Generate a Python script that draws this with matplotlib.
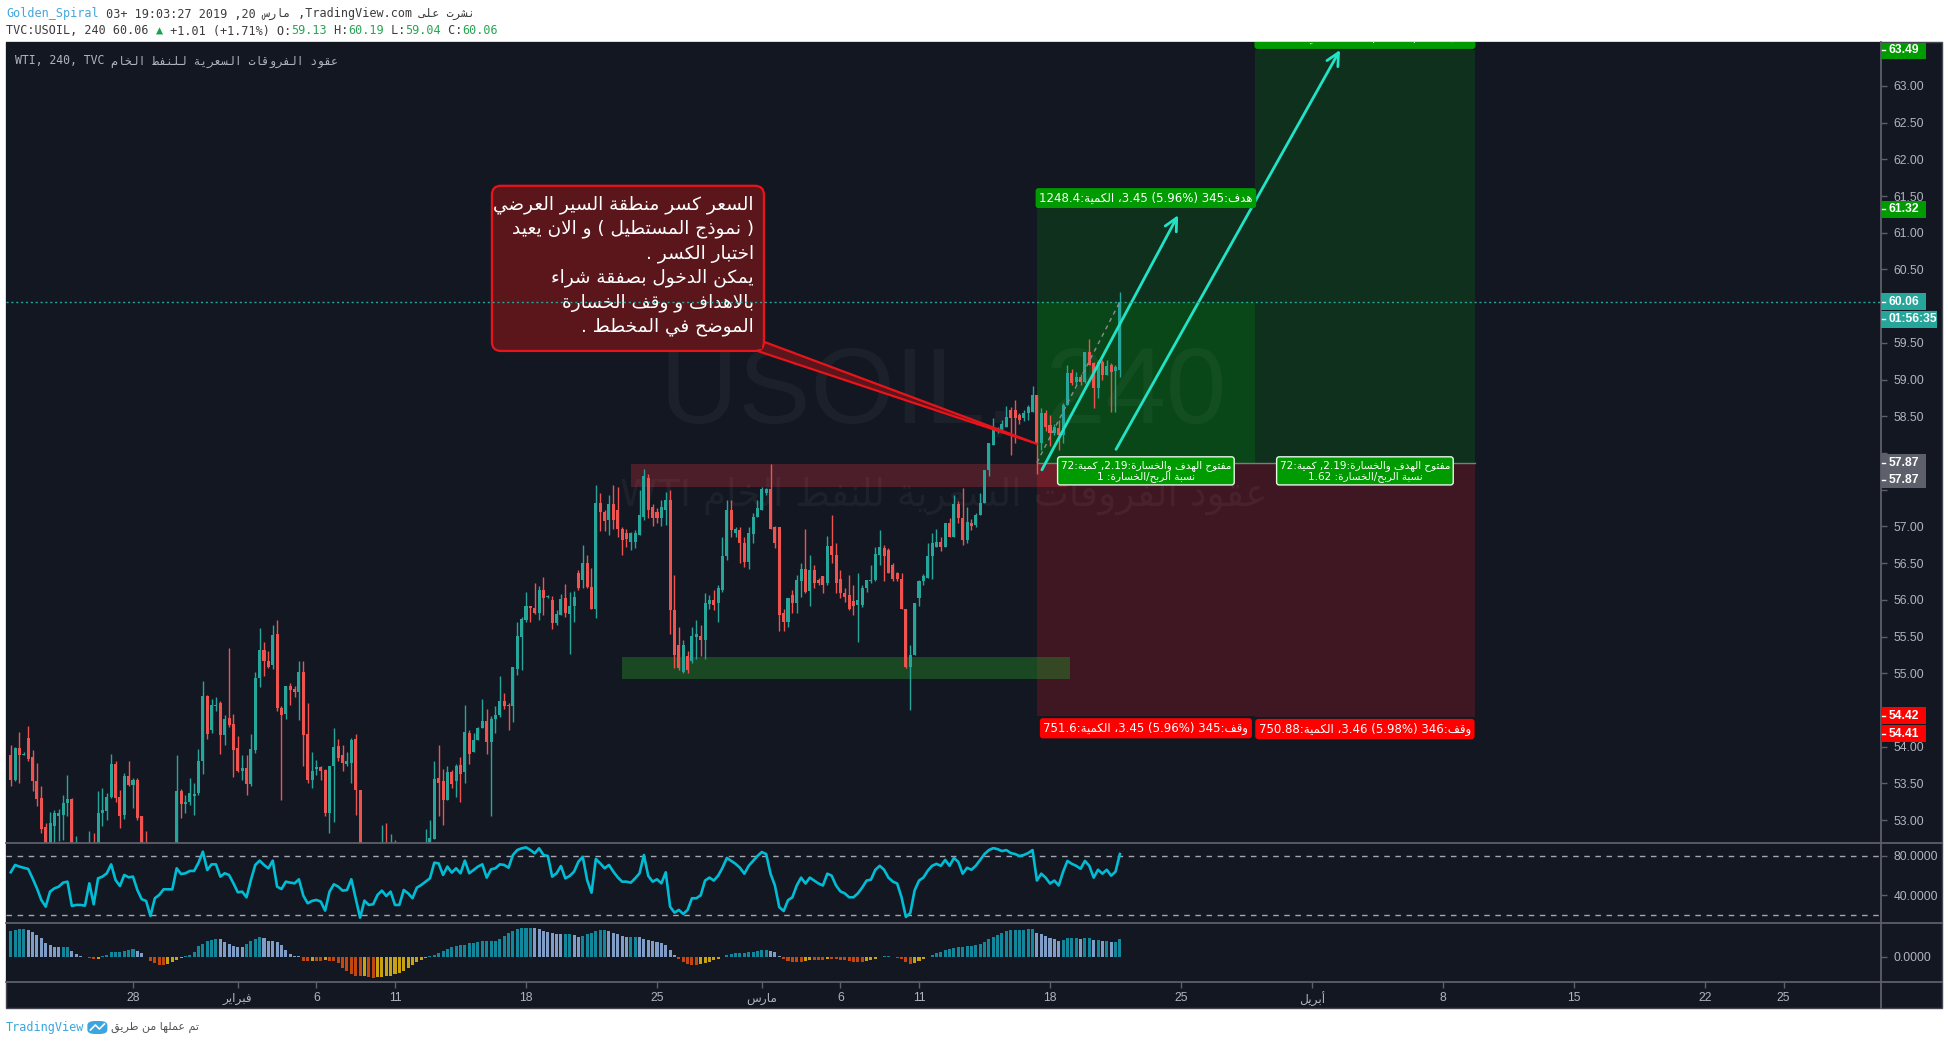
import re
import numpy as np
import matplotlib
matplotlib.use("Agg")
import matplotlib.pyplot as plt
from matplotlib.patches import Rectangle, FancyBboxPatch, Polygon
from matplotlib.lines import Line2D
from matplotlib.transforms import IdentityTransform

plt.rcParams['font.family'] = ['DejaVu Sans']

# ---------------------------------------------------------------- data
# 4h candles of TVC:USOIL, from Jan 21 (3rd bar of the day) to Mar 20, 2019
OPEN = [
 53.89, 53.55, 53.98, 53.89, 54.12, 53.86, 53.53, 53.30, 52.90, 52.55,
 52.92, 53.06, 53.07, 53.23, 53.28, 52.40, 52.55, 52.40, 52.45, 52.62,
 52.50, 53.09, 53.12, 53.32, 53.77, 53.31, 53.07, 53.60, 53.48, 53.54,
 53.05, 52.50, 52.30, 52.10, 52.00, 52.20, 52.10, 52.30, 52.35, 53.39,
 53.22, 53.25, 53.33, 53.37, 53.80, 54.69, 54.22, 54.56, 54.59, 54.16,
 54.39, 54.31, 53.98, 53.67, 53.71, 53.49, 53.95, 54.93, 55.32, 55.17,
 55.11, 55.54, 54.53, 54.45, 54.82, 54.79, 54.74, 55.02, 54.17, 53.55,
 53.69, 53.72, 53.68, 53.10, 53.73, 54.01, 53.89, 53.77, 53.78, 54.11,
 53.41, 52.40, 52.50, 52.30, 52.20, 52.40, 52.55, 52.40, 52.50, 52.30,
 52.20, 52.10, 52.25, 52.30, 52.20, 52.35, 52.50, 52.74, 53.57, 53.53,
 53.27, 53.65, 53.53, 53.75, 53.66, 54.18, 53.93, 54.09, 54.25, 54.35,
 54.06, 54.37, 54.43, 54.62, 54.57, 54.55, 55.06, 55.50, 55.73, 55.91,
 55.89, 55.82, 56.13, 56.04, 56.00, 55.69, 55.79, 56.03, 55.81, 55.91,
 56.36, 56.27, 56.50, 56.18, 55.88, 57.32, 57.20, 57.09, 57.31, 57.22,
 56.97, 56.91, 56.79, 56.79, 56.88, 57.13, 57.66, 57.27, 57.20, 57.12,
 57.22, 57.36, 55.86, 55.38, 55.02, 55.23, 55.16, 55.49, 55.51, 55.45,
 55.94, 56.00, 55.95, 56.13, 56.59, 57.22, 56.91, 56.95, 56.77, 56.52,
 56.90, 57.13, 57.22, 57.45, 57.51, 56.99, 56.99, 55.82, 55.70, 56.07,
 55.95, 56.25, 56.42, 56.12, 56.41, 56.27, 56.32, 56.23, 56.73, 56.61,
 56.29, 56.09, 56.07, 55.98, 55.93, 55.93, 56.16, 56.25, 56.27, 56.61,
 56.70, 56.68, 56.47, 56.36, 56.28, 55.88, 55.08, 55.25, 56.02, 56.25,
 56.30, 56.59, 56.72, 56.79, 56.72, 57.05, 56.86, 57.31, 57.12, 56.81,
 57.05, 57.02, 57.16, 57.32, 57.77, 58.11, 58.31, 58.31, 58.36, 58.59,
 58.59, 58.52, 58.47, 58.54, 58.56, 58.79, 58.13, 58.54, 58.38, 58.27,
 58.34, 58.25, 58.65, 59.09, 58.97, 59.04, 58.97, 59.37, 59.22, 58.88,
 59.24, 59.06, 59.20, 59.12, 59.13]
HIGH = [
 54.02, 54.00, 54.20, 53.92, 54.28, 53.96, 53.78, 53.46, 52.96, 53.11,
 53.14, 53.15, 53.34, 53.62, 53.30, 52.78, 52.62, 52.62, 52.85, 52.82,
 53.39, 53.43, 53.37, 53.90, 53.81, 53.41, 53.64, 53.81, 53.57, 53.57,
 53.05, 52.85, 52.40, 52.30, 52.35, 52.40, 52.50, 52.55, 53.89, 53.42,
 53.34, 53.57, 53.50, 53.97, 54.90, 54.71, 54.65, 54.67, 54.62, 54.43,
 55.34, 54.45, 54.15, 53.88, 53.88, 54.17, 55.02, 55.61, 55.42, 55.30,
 55.65, 55.73, 54.55, 54.83, 54.87, 54.82, 55.17, 55.17, 54.59, 53.92,
 53.82, 53.73, 53.69, 53.74, 54.25, 54.11, 54.02, 53.92, 54.12, 54.17,
 53.41, 52.70, 52.60, 52.45, 52.50, 52.93, 52.96, 52.81, 52.73, 52.50,
 52.35, 52.40, 52.50, 52.45, 52.50, 52.88, 53.00, 53.81, 54.02, 53.69,
 53.73, 53.68, 53.77, 53.86, 54.57, 54.22, 54.19, 54.27, 54.65, 54.51,
 54.42, 54.56, 54.96, 54.73, 54.59, 55.08, 55.70, 55.77, 56.10, 55.92,
 56.23, 56.19, 56.31, 56.06, 56.05, 55.86, 56.08, 56.22, 56.10, 56.12,
 56.40, 56.75, 56.61, 56.43, 57.56, 57.45, 57.22, 57.43, 57.56, 57.54,
 56.99, 56.97, 56.93, 56.95, 57.50, 57.78, 57.72, 57.30, 57.25, 57.36,
 57.47, 57.50, 56.34, 55.63, 55.45, 55.30, 55.63, 55.73, 55.66, 56.09,
 56.07, 56.13, 56.20, 56.86, 57.36, 57.36, 56.99, 56.99, 56.86, 56.99,
 57.18, 57.36, 57.54, 57.52, 57.85, 57.00, 56.99, 55.88, 56.02, 56.13,
 56.34, 56.50, 56.97, 56.61, 56.47, 56.30, 56.32, 56.87, 57.16, 56.77,
 56.41, 56.16, 56.34, 56.20, 56.36, 56.20, 56.27, 56.47, 56.72, 56.95,
 56.75, 56.70, 56.50, 56.38, 56.37, 55.88, 55.38, 55.96, 56.27, 56.35,
 56.77, 56.91, 56.96, 56.86, 57.05, 57.12, 57.43, 57.35, 57.52, 57.27,
 57.10, 57.18, 57.45, 57.77, 58.13, 58.47, 58.36, 58.45, 58.64, 58.63,
 58.72, 58.55, 58.58, 58.65, 58.91, 58.79, 58.61, 58.58, 58.52, 58.40,
 58.45, 58.68, 59.20, 59.15, 59.10, 59.08, 59.37, 59.55, 59.24, 59.27,
 59.27, 59.27, 59.22, 59.20, 60.19]
LOW = [
 53.47, 53.53, 53.50, 53.88, 53.80, 53.39, 53.19, 52.82, 52.45, 52.45,
 52.69, 52.71, 52.73, 53.05, 52.30, 52.30, 52.20, 52.30, 52.35, 52.40,
 52.45, 52.92, 53.00, 53.30, 53.25, 52.89, 53.01, 53.46, 53.17, 53.00,
 52.40, 52.20, 51.90, 51.80, 51.90, 52.00, 52.00, 52.20, 52.30, 53.03,
 53.09, 53.20, 53.07, 53.34, 53.63, 54.11, 54.18, 54.48, 53.90, 54.02,
 54.27, 53.58, 53.66, 53.54, 53.34, 53.46, 53.91, 54.81, 54.96, 55.07,
 55.06, 54.48, 53.27, 54.37, 54.57, 54.68, 54.36, 53.74, 53.50, 53.44,
 53.62, 53.55, 53.05, 52.83, 52.97, 53.81, 53.67, 53.73, 53.50, 53.07,
 52.30, 52.20, 52.10, 52.00, 52.10, 52.30, 52.30, 52.30, 52.20, 52.00,
 51.95, 52.00, 52.10, 52.05, 52.10, 52.25, 52.40, 52.74, 53.06, 52.93,
 53.27, 53.44, 53.31, 53.25, 53.51, 53.77, 53.93, 54.09, 54.25, 53.90,
 53.06, 54.18, 54.40, 54.51, 54.22, 54.34, 54.97, 55.04, 55.70, 55.70,
 55.81, 55.73, 55.79, 56.02, 55.60, 55.65, 55.79, 55.77, 55.26, 55.70,
 56.13, 56.16, 56.16, 55.88, 55.75, 56.94, 56.94, 56.88, 56.96, 56.86,
 56.61, 56.72, 56.68, 56.70, 56.88, 57.09, 57.11, 57.00, 57.05, 57.00,
 57.02, 55.54, 55.07, 55.04, 55.00, 55.00, 55.14, 55.20, 55.23, 55.20,
 55.88, 55.86, 55.70, 56.11, 56.54, 56.86, 56.86, 56.50, 56.45, 56.42,
 56.77, 57.13, 57.22, 57.43, 56.97, 56.70, 55.57, 55.57, 55.63, 55.82,
 55.82, 56.04, 56.09, 55.91, 56.16, 56.20, 56.09, 56.20, 56.50, 56.09,
 56.02, 55.97, 55.86, 55.79, 55.43, 55.90, 56.11, 56.23, 56.25, 56.47,
 56.25, 56.36, 56.25, 56.25, 55.88, 55.07, 54.50, 55.25, 55.91, 56.20,
 56.30, 56.29, 56.72, 56.66, 56.72, 56.86, 56.86, 57.05, 56.75, 56.77,
 56.95, 56.99, 57.16, 57.32, 57.68, 58.11, 58.27, 58.28, 58.36, 57.97,
 58.13, 58.40, 58.44, 58.45, 58.56, 57.72, 58.04, 58.30, 58.09, 58.25,
 58.04, 58.13, 58.65, 58.93, 58.93, 58.92, 58.95, 59.20, 58.61, 58.75,
 59.00, 59.06, 58.56, 58.56, 59.04]
CLOSE = [
 53.55, 53.98, 53.89, 53.90, 53.83, 53.53, 53.29, 52.88, 52.60, 52.96,
 53.09, 53.09, 53.23, 53.28, 52.40, 52.55, 52.40, 52.50, 52.62, 52.50,
 53.10, 53.13, 53.32, 53.77, 53.30, 53.06, 53.60, 53.48, 53.54, 53.03,
 52.50, 52.30, 52.10, 52.00, 52.20, 52.10, 52.30, 52.35, 53.39, 53.22,
 53.24, 53.37, 53.35, 53.81, 54.69, 54.17, 54.57, 54.57, 54.16, 54.37,
 54.29, 53.96, 53.67, 53.71, 53.49, 53.97, 54.93, 55.32, 55.16, 55.09,
 55.52, 54.52, 54.43, 54.83, 54.77, 54.74, 55.02, 54.16, 53.55, 53.67,
 53.72, 53.67, 53.10, 53.74, 54.00, 53.85, 53.78, 53.81, 54.09, 53.41,
 52.40, 52.50, 52.30, 52.20, 52.40, 52.55, 52.40, 52.50, 52.30, 52.20,
 52.10, 52.25, 52.30, 52.20, 52.35, 52.50, 52.76, 53.56, 53.51, 53.27,
 53.65, 53.49, 53.74, 53.63, 54.20, 53.90, 54.09, 54.25, 54.35, 54.06,
 54.37, 54.43, 54.62, 54.56, 54.55, 55.08, 55.51, 55.74, 55.92, 55.89,
 55.82, 56.14, 56.03, 56.04, 55.69, 55.81, 56.01, 55.82, 55.92, 56.04,
 56.16, 56.50, 56.18, 55.88, 57.32, 57.20, 57.08, 57.31, 57.09, 56.97,
 56.82, 56.83, 56.91, 56.91, 57.16, 57.68, 57.22, 57.12, 57.12, 57.26,
 57.36, 55.86, 55.25, 55.07, 55.38, 55.04, 55.51, 55.54, 55.45, 55.96,
 56.00, 55.93, 56.16, 56.59, 57.22, 56.95, 56.97, 56.77, 56.52, 56.91,
 57.13, 57.25, 57.51, 57.51, 56.97, 56.77, 55.79, 55.70, 56.02, 55.95,
 56.27, 56.42, 56.11, 56.41, 56.23, 56.23, 56.20, 56.73, 56.61, 56.23,
 56.09, 56.04, 55.88, 55.91, 56.00, 56.16, 56.27, 56.27, 56.63, 56.72,
 56.59, 56.36, 56.29, 56.29, 55.88, 55.08, 55.25, 55.96, 56.25, 56.32,
 56.59, 56.77, 56.79, 56.72, 57.05, 56.86, 57.31, 57.12, 56.81, 57.06,
 57.01, 57.16, 57.32, 57.77, 58.13, 58.31, 58.34, 58.40, 58.49, 58.47,
 58.47, 58.45, 58.54, 58.63, 58.79, 58.13, 58.54, 58.36, 58.27, 58.36,
 58.25, 58.65, 59.09, 58.95, 59.04, 58.97, 59.37, 59.20, 58.88, 59.24,
 59.06, 59.18, 59.11, 59.17, 60.06]
STOCH = [
 63.4, 70.9, 69.2, 68.0, 66.8, 57.3, 47.1, 35.3, 28.5, 43.7,
 47.1, 48.8, 52.9, 53.9, 29.2, 30.2, 30.2, 29.5, 52.2, 30.9,
 57.3, 59.0, 62.4, 71.5, 55.6, 49.5, 60.7, 58.3, 59.0, 45.4,
 36.0, 34.3, 19.0, 37.0, 40.4, 46.1, 46.1, 46.1, 67.5, 61.7,
 62.4, 64.8, 64.8, 73.2, 84.4, 65.8, 71.5, 71.5, 59.0, 62.4,
 60.7, 52.2, 43.1, 43.7, 38.0, 55.6, 70.9, 75.3, 70.9, 67.5,
 75.3, 48.8, 46.4, 53.9, 52.9, 52.2, 56.3, 39.7, 31.9, 34.3,
 35.3, 33.6, 24.4, 43.7, 51.2, 48.8, 44.8, 45.4, 56.3, 37.0,
 17.3, 34.6, 30.2, 30.9, 40.4, 44.8, 39.3, 43.7, 30.2, 30.2,
 45.4, 42.0, 37.0, 47.8, 50.5, 53.9, 57.3, 73.2, 72.5, 60.7,
 69.2, 63.1, 67.5, 62.4, 75.3, 62.4, 65.8, 69.2, 71.5, 58.0,
 66.4, 67.5, 71.5, 70.9, 68.1, 81.0, 86.1, 87.8, 88.8, 86.1,
 82.7, 87.8, 81.0, 80.0, 59.0, 62.4, 69.8, 57.3, 59.7, 64.1,
 74.2, 79.3, 55.6, 42.7, 77.0, 72.5, 67.5, 70.9, 64.1, 58.3,
 53.9, 53.9, 52.9, 57.3, 62.4, 81.0, 59.7, 53.9, 56.3, 52.2,
 63.4, 28.5, 22.4, 25.1, 21.0, 25.1, 37.0, 37.0, 40.0, 55.0,
 58.0, 55.0, 60.0, 68.0, 78.0, 75.0, 72.0, 68.0, 62.0, 70.0,
 75.0, 80.0, 84.0, 82.0, 62.0, 50.0, 28.0, 24.0, 35.0, 38.0,
 50.0, 58.0, 52.0, 58.0, 55.0, 52.0, 50.0, 62.0, 60.0, 50.0,
 44.0, 42.0, 38.0, 38.0, 42.0, 48.0, 55.0, 56.0, 66.0, 70.0,
 66.0, 58.0, 54.0, 52.0, 38.0, 18.0, 22.0, 45.0, 55.0, 58.0,
 65.0, 70.0, 72.0, 70.0, 76.0, 70.0, 78.0, 74.0, 62.0, 68.0,
 66.0, 70.0, 76.0, 82.0, 86.0, 88.0, 87.0, 85.0, 86.0, 83.0,
 82.0, 80.0, 81.0, 83.0, 86.0, 55.0, 62.0, 58.0, 52.0, 55.0,
 50.0, 64.0, 75.0, 72.0, 70.0, 67.0, 75.0, 70.0, 58.0, 66.0,
 62.0, 66.0, 60.0, 64.0, 82.0]
MACD_HIST = [
 0.257, 0.267, 0.273, 0.277, 0.267, 0.243, 0.217, 0.183, 0.140, 0.117,
 0.100, 0.097, 0.097, 0.097, 0.057, 0.023, 0.007, -0.007, -0.013, -0.027,
 -0.020, 0.003, 0.013, 0.043, 0.047, 0.047, 0.057, 0.067, 0.073, 0.057,
 0.033, -0.003, -0.040, -0.067, -0.083, -0.083, -0.073, -0.057, -0.033, -0.017,
 0.010, 0.020, 0.050, 0.107, 0.127, 0.157, 0.170, 0.177, 0.173, 0.150,
 0.127, 0.107, 0.100, 0.097, 0.123, 0.157, 0.177, 0.193, 0.183, 0.160,
 0.157, 0.150, 0.117, 0.067, 0.027, 0.007, 0.003, -0.040, -0.047, -0.040,
 -0.043, -0.043, -0.033, -0.043, -0.047, -0.060, -0.110, -0.143, -0.177, -0.190,
 -0.193, -0.190, -0.200, -0.210, -0.207, -0.200, -0.193, -0.190, -0.177, -0.160,
 -0.140, -0.117, -0.087, -0.057, -0.033, -0.017, 0.003, 0.017, 0.033, 0.057,
 0.073, 0.093, 0.107, 0.117, 0.117, 0.133, 0.140, 0.150, 0.157, 0.160,
 0.160, 0.160, 0.177, 0.207, 0.233, 0.260, 0.273, 0.283, 0.287, 0.287,
 0.283, 0.273, 0.260, 0.250, 0.240, 0.227, 0.223, 0.223, 0.223, 0.213,
 0.200, 0.207, 0.223, 0.240, 0.253, 0.263, 0.267, 0.260, 0.240, 0.223,
 0.210, 0.200, 0.200, 0.200, 0.193, 0.180, 0.167,
 0.160, 0.150, 0.140, 0.120, 0.070, 0.020, -0.020, -0.050, -0.070, -0.080,
 -0.080, -0.070, -0.060, -0.050, -0.030, -0.020, 0.000, 0.020, 0.030, 0.040,
 0.040, 0.040, 0.050, 0.050, 0.060, 0.070, 0.070, 0.060, 0.050, 0.010,
 -0.020, -0.040, -0.050, -0.050, -0.050, -0.040, -0.030, -0.030, -0.030, -0.030,
 -0.020, -0.020, -0.020, -0.030, -0.030, -0.040, -0.050, -0.050, -0.050, -0.040,
 -0.030, -0.020, 0.000, 0.010, 0.010, 0.000, -0.010, -0.020, -0.050, -0.070,
 -0.060, -0.040, -0.020, 0.000, 0.020, 0.040, 0.050, 0.070, 0.080, 0.090,
 0.100, 0.100, 0.110, 0.110, 0.120, 0.130, 0.150, 0.180, 0.200, 0.220,
 0.240, 0.260, 0.270, 0.270, 0.270, 0.270, 0.280, 0.280, 0.240, 0.230,
 0.210, 0.190, 0.180, 0.160, 0.170, 0.190, 0.190, 0.190, 0.180, 0.190,
 0.190, 0.170, 0.170, 0.160, 0.160, 0.150, 0.150, 0.180]

FIRST_DAY = -5          # trading-day index of first bar's day (Jan 28 = 0)
FIRST_SLOT = 2          # first bar is the 3rd 4h bar of that day
BARS_PER_DAY = 6
DATE_TICKS = [0, 4, 7, 10, 15, 20, 24, 27, 30, 35, 40, 45, 50, 55, 60, 63]
DATE_LABELS = ['28', 'فبراير', '6', '11', '18', '25', 'مارس', '6', '11', '18',
               '25', 'أبريل', '8', '15', '22', '25']
PRICE_TICKS = [53.0, 53.5, 54.0, 54.5, 55.0, 55.5, 56.0, 56.5, 57.0, 57.5, 58.0,
               58.5, 59.0, 59.5, 60.0, 60.5, 61.0, 61.5, 62.0, 62.5, 63.0]
OSC_TICKS = [40, 80]
OSC_BANDS = [80, 20]

LAST = 60.06
ENTRY = 57.87
TARGET1, STOP1 = 61.32, 54.42
TARGET2, STOP2 = 63.49, 54.41
POS1 = (34.5, 42.82)
POS2 = (42.82, 51.22)
RED_ZONE = (19.0, 35.65, 57.53, 57.85)
GREEN_ZONE = (18.65, 35.75, 54.92, 55.22)
ARROW1 = ((34.69, 57.77), (39.89, 61.24))
ARROW2 = ((37.52, 58.05), (46.07, 63.49))
CALLOUT = (13.70, 24.08, 59.39, 61.64)
CALLOUT_TIP = (34.54, 58.12)

POS1_TARGET_TXT = 'هدف:345 (5.96%) 3.45، الكمية:1248.4'
POS2_TARGET_TXT = 'هدف:562 (9.71%) 5.62، الكمية:1248.4'
POS1_STOP_TXT = 'وقف:345 (5.96%) 3.45، الكمية:751.6'
POS2_STOP_TXT = 'وقف:346 (5.98%) 3.46، الكمية:750.88'
POS1_MID_TXT = ['مفتوح الهدف والخسارة:2.19, كمية:72', 'نسبة الربح/الخسارة: 1']
POS2_MID_TXT = ['مفتوح الهدف والخسارة:2.19, كمية:72', 'نسبة الربح/الخسارة: 1.62']
NOTE_LINES = ['السعر كسر منطقة السير العرضي',
              '( نموذج المستطيل ) و الان يعيد',
              'اختبار الكسر .',
              'يمكن الدخول بصفقة شراء',
              'بالاهداف و وقف الخسارة',
              'الموضح في المخطط .']

# ---------------------------------------------------------------- Arabic shaping
_AR = {'ء': (0xFE80, 1), 'آ': (0xFE81, 2), 'أ': (0xFE83, 2), 'ؤ': (0xFE85, 2),
       'إ': (0xFE87, 2), 'ئ': (0xFE89, 4), 'ا': (0xFE8D, 2), 'ب': (0xFE8F, 4),
       'ة': (0xFE93, 2), 'ت': (0xFE95, 4), 'ث': (0xFE99, 4), 'ج': (0xFE9D, 4),
       'ح': (0xFEA1, 4), 'خ': (0xFEA5, 4), 'د': (0xFEA9, 2), 'ذ': (0xFEAB, 2),
       'ر': (0xFEAD, 2), 'ز': (0xFEAF, 2), 'س': (0xFEB1, 4), 'ش': (0xFEB5, 4),
       'ص': (0xFEB9, 4), 'ض': (0xFEBD, 4), 'ط': (0xFEC1, 4), 'ظ': (0xFEC5, 4),
       'ع': (0xFEC9, 4), 'غ': (0xFECD, 4), 'ف': (0xFED1, 4), 'ق': (0xFED5, 4),
       'ك': (0xFED9, 4), 'ل': (0xFEDD, 4), 'م': (0xFEE1, 4), 'ن': (0xFEE5, 4),
       'ه': (0xFEE9, 4), 'و': (0xFEED, 2), 'ى': (0xFEEF, 2), 'ي': (0xFEF1, 4)}
_LAMALEF = {'آ': 0xFEF5, 'أ': 0xFEF7, 'إ': 0xFEF9, 'ا': 0xFEFB}
_MIRROR = {'(': ')', ')': '('}
_LTR = re.compile(r'[A-Za-z0-9][A-Za-z0-9.,:%_ ]*[A-Za-z0-9%]|[A-Za-z0-9]')


def _shape(s):
    out, i, prev_join = [], 0, False
    while i < len(s):
        ch = s[i]
        nxt = s[i + 1] if i + 1 < len(s) else ''
        if ch in _AR:
            if ch == 'ل' and nxt in _LAMALEF:
                out.append(chr(_LAMALEF[nxt] + (1 if prev_join else 0)))
                prev_join = False
                i += 2
                continue
            base, nf = _AR[ch]
            join_next = nf == 4 and nxt in _AR and _AR[nxt][1] > 1
            if nf == 1:
                k = 0
            elif prev_join and join_next:
                k = 3
            elif prev_join:
                k = 1
            elif join_next:
                k = 2
            else:
                k = 0
            out.append(ch if k == 0 else chr(base + k))
            prev_join = join_next
        else:
            out.append(ch)
            prev_join = False
        i += 1
    return ''.join(out)


def rtl(s):
    s = _shape(s)
    parts, pos = [], 0
    for m in _LTR.finditer(s):
        if m.start() > pos:
            parts.append(('r', s[pos:m.start()]))
        parts.append(('l', m.group()))
        pos = m.end()
    if pos < len(s):
        parts.append(('r', s[pos:]))
    out = []
    for kind, t in reversed(parts):
        out.append(t if kind == 'l' else ''.join(_MIRROR.get(c, c) for c in reversed(t)))
    return ''.join(out)


# ---------------------------------------------------------------- layout
W, H = 1949, 1045
L, R, FR = 6, 1881, 1942
TOP, MAIN_B, OSC_B, MACD_B, AX_B = 42, 843, 923, 982, 1008
BG = '#131722'
UP, DN = '#26a69a', '#ef5350'
SEP = '#5d606b'
AXTXT = '#b2b5be'
CYAN = '#21e3c6'
GREEN_TAG = '#009b00'

fig = plt.figure(figsize=(W / 100, H / 100), dpi=100)
fig.patch.set_facecolor('white')


def frect(x0, y0, x1, y1):
    return [x0 / W, 1 - y1 / H, (x1 - x0) / W, (y1 - y0) / H]


fig.add_artist(Rectangle((L / W, 1 - AX_B / H), (FR - L) / W, (AX_B - TOP) / H,
                         transform=fig.transFigure, fc=BG, ec='#434651', lw=1, zorder=-10))

ax = fig.add_axes(frect(L, TOP, R, MAIN_B))
ax_o = fig.add_axes(frect(L, MAIN_B, R, OSC_B))
ax_m = fig.add_axes(frect(L, OSC_B, R, MACD_B))
XLIM = ((L - 133) / 26.2, (R - 133) / 26.2)
for a in (ax, ax_o, ax_m):
    a.set_facecolor(BG)
    a.set_xlim(*XLIM)
    for s in a.spines.values():
        s.set_visible(False)
    a.yaxis.tick_right()
    a.tick_params(axis='y', colors=SEP, labelcolor=AXTXT, length=4, width=1,
                  pad=5, labelsize=8.7)
ax.set_ylim(52.687, 63.599)
ax_o.set_ylim(11.84, 93.22)
ax_m.set_ylim(-0.253, 0.337)
for a in (ax, ax_o):
    a.tick_params(axis='x', bottom=False, labelbottom=False)

# right-axis price tags: (price, pixel offset, text, colour, width)
TAGS = [(TARGET2, 0, f'{TARGET2:.2f}', GREEN_TAG, 45),
        (TARGET1, 0, f'{TARGET1:.2f}', GREEN_TAG, 45),
        (LAST, 0, f'{LAST:.2f}', UP, 45),
        (LAST, 17.5, '01:56:35', UP, 56),
        (ENTRY, 0, f'{ENTRY:.2f}', '#5d606b', 45),
        (ENTRY, 17, f'{ENTRY:.2f}', '#5d606b', 45),
        (STOP1, 0, f'{STOP1:.2f}', '#ff0000', 45),
        (STOP2, 17, f'{STOP2:.2f}', '#ff0000', 45)]

px_per_price = (MAIN_B - TOP) / (63.599 - 52.687)
tag_px = [(63.599 - p) * px_per_price + dy for p, dy, *_ in TAGS]
ax.set_yticks(PRICE_TICKS)
ax.set_yticklabels(['' if any(abs((63.599 - v) * px_per_price - t) < 10.5 for t in tag_px)
                    else f'{v:.2f}' for v in PRICE_TICKS])
ax_o.set_yticks(OSC_TICKS)
ax_o.set_yticklabels([f'{v:.4f}' for v in OSC_TICKS])
ax_m.set_yticks([0])
ax_m.set_yticklabels(['0.0000'])
ax_m.set_xticks(DATE_TICKS)
ax_m.set_xticklabels([rtl(s) for s in DATE_LABELS])
ax_m.tick_params(axis='x', colors=SEP, labelcolor=AXTXT, length=4, width=1,
                 pad=3.5, labelsize=8.7)
for a in (ax, ax_o, ax_m):
    for t in a.get_yticklabels() + a.get_xticklabels():
        t.set_fontfamily(['Liberation Sans', 'DejaVu Sans'])

# separators
for y in (MAIN_B, OSC_B, MACD_B):
    fig.add_artist(Line2D([L / W, FR / W], [1 - y / H] * 2, color=SEP, lw=1.3, zorder=5))
fig.add_artist(Line2D([R / W] * 2, [1 - TOP / H, 1 - AX_B / H], color=SEP, lw=1.3, zorder=5))

# ---------------------------------------------------------------- main pane drawings
n = len(CLOSE)
xs = FIRST_DAY + (np.arange(n) + FIRST_SLOT) / BARS_PER_DAY
o, h, lo, c = map(np.array, (OPEN, HIGH, LOW, CLOSE))
ccol = np.where(c >= o, UP, DN)


def fill(x0, x1, y0, y1, color, alpha, z):
    ax.add_patch(Rectangle((x0, y0), x1 - x0, y1 - y0, fc=color, ec='none', alpha=alpha, zorder=z))


# long-position tools
fill(POS1[0], POS1[1], ENTRY, TARGET1, '#008c0d', 0.22, 0.3)
fill(POS2[0], POS2[1], ENTRY, TARGET2, '#008c0d', 0.22, 0.3)
fill(POS1[0], POS1[1], ENTRY, LAST, '#008c0d', 0.25, 0.35)
fill(POS1[0], POS1[1], STOP1, ENTRY, '#f21a26', 0.2, 0.3)
fill(POS2[0], POS2[1], STOP2, ENTRY, '#f21a26', 0.2, 0.3)
ax.plot([POS1[0], POS2[1]], [ENTRY, ENTRY], color='#787b86', lw=1, zorder=0.6)

# zones
fill(RED_ZONE[0], RED_ZONE[1], RED_ZONE[2], RED_ZONE[3], '#f2333f', 0.26, 0.8)
fill(GREEN_ZONE[0], GREEN_ZONE[1], GREEN_ZONE[2], GREEN_ZONE[3], '#268c26', 0.42, 0.8)

# watermark
ax.text(0.5, 0.559, 'USOIL, 240', transform=ax.transAxes, ha='center', va='center',
        fontsize=78, color='white', alpha=0.04, family='Liberation Sans', zorder=1)
ax.text(0.5, 0.433, 'WTI ' + rtl('عقود الفروقات السعرية للنفط الخام'), transform=ax.transAxes,
        ha='center', va='center', fontsize=27, color='white', alpha=0.045, zorder=1)

# candles
ax.vlines(xs, lo, h, colors=ccol, lw=1, zorder=3)
ax.bar(xs, np.maximum(np.abs(c - o), 0.012), bottom=np.minimum(o, c), width=0.115,
       color=ccol, lw=0, zorder=3)

# entry->current dashed line
ax.plot([POS1[0], xs[-1]], [ENTRY, LAST], color='#8a8d96', lw=1, ls=(0, (3, 3)), zorder=3.5)

# arrows
for (p0, p1) in (ARROW1, ARROW2):
    ax.annotate('', xy=p1, xytext=p0,
                arrowprops=dict(arrowstyle='->,head_length=0.9,head_width=0.45', color=CYAN,
                                lw=2, shrinkA=0, shrinkB=0), zorder=4)

# last price dotted line
ax.axhline(LAST, color=UP, lw=1, ls=(0, (1.5, 2)), zorder=8)


# callout (drawn in display pixels from data anchors)
def disp(x, y):
    return ax.transData.transform((x, y))


bx0, by0 = disp(CALLOUT[0], CALLOUT[2])
bx1, by1 = disp(CALLOUT[1], CALLOUT[3])
tip = disp(*CALLOUT_TIP)
ax.add_patch(Polygon([(bx1 - 8, by0 + 0.5), (bx1 + 0.5, by0 + 9), tip], closed=True, fc='#5a161b',
                     ec='#e8141c', lw=1.6, transform=IdentityTransform(), zorder=6))
ax.add_patch(FancyBboxPatch((bx0, by0), bx1 - bx0, by1 - by0,
                            boxstyle='round,pad=0,rounding_size=9', fc='#5a161b', ec='#e8141c',
                            lw=1.6, transform=IdentityTransform(), zorder=6.1))
ax.add_patch(Polygon([(bx1 - 9, by0 + 1.5), (bx1 - 1.5, by0 + 1.5), (bx1 - 1.5, by0 + 9)],
                     closed=True, fc='#5a161b', ec='none', transform=IdentityTransform(), zorder=6.2))
for k, line in enumerate(NOTE_LINES):
    ax.text(bx1 - 10, by1 - 19 - 24.4 * k, rtl(line), transform=IdentityTransform(),
            ha='right', va='center', color='white', fontsize=13.3, zorder=7)


# position labels
def tag(x, y, txt, fc, dy, size=8.5, ec='none', lw=0):
    ax.annotate(txt, xy=(x, y), xytext=(0, dy), textcoords='offset points', ha='center',
                va='center', color='white', fontsize=size, zorder=7, annotation_clip=False,
                clip_on=True, linespacing=1.0,
                bbox=dict(boxstyle='round,pad=0.3,rounding_size=0.25', fc=fc, ec=ec, lw=lw))


m1 = (POS1[0] + POS1[1]) / 2
m2 = (POS2[0] + POS2[1]) / 2
tag(m1, TARGET1, rtl(POS1_TARGET_TXT), GREEN_TAG, 8)
tag(m2, TARGET2, rtl(POS2_TARGET_TXT), GREEN_TAG, 8)
tag(m1, STOP1, rtl(POS1_STOP_TXT), '#ff0000', -9)
tag(m2, STOP2, rtl(POS2_STOP_TXT), '#ff0000', -9)
tag(m1, ENTRY, '\n'.join(rtl(s) for s in POS1_MID_TXT), GREEN_TAG, -6, size=7.5, ec='#e8f5e9', lw=1)
tag(m2, ENTRY, '\n'.join(rtl(s) for s in POS2_MID_TXT), GREEN_TAG, -6, size=7.5, ec='#e8f5e9', lw=1)

# ---------------------------------------------------------------- oscillator panes
ax_o.plot(xs, STOCH, color='#00bcd4', lw=1.9, zorder=3)
for v in OSC_BANDS:
    ax_o.axhline(v, color='#a3a6af', lw=1, ls=(0, (4, 4)), zorder=2)

hist = np.array(MACD_HIST)
prev = np.concatenate([[hist[0]], hist[:-1]])
hcol = np.where(hist >= 0, np.where(hist >= prev, '#12879b', '#7f9dc6'),
                np.where(hist <= prev, '#c4470f', '#c9a212'))
ax_m.bar(xs, hist, width=0.115, color=hcol, lw=0, zorder=3)


# ---------------------------------------------------------------- right-axis tags
def axis_tag(price, dy, text, fc, w, tc='white'):
    yd = ax.transData.transform((0, price))[1] - dy
    top = min(yd + 8.5, H - TOP - 1)
    fig.add_artist(Rectangle((R / W, (yd - 8.5) / H), w / W, (top - yd + 8.5) / H,
                             transform=fig.transFigure, fc=fc, ec='none', zorder=6))
    fig.add_artist(Line2D([(R + 1) / W, (R + 4) / W], [yd / H] * 2, color=tc, lw=1, zorder=7))
    fig.text((R + 8) / W, yd / H, text, color=tc, fontsize=8.7, fontweight='bold',
             family='Liberation Sans', va='center', ha='left', zorder=7)


for p, dy, txt, col, w in TAGS:
    axis_tag(p, dy, txt, col, w)

# ---------------------------------------------------------------- header / footer texts
renderer = fig.canvas.get_renderer()


def text_w(s, **kw):
    t1 = fig.text(0, 0, '|' + s + '|', **kw)
    t2 = fig.text(0, 0, '||', **kw)
    w = t1.get_window_extent(renderer).width - t2.get_window_extent(renderer).width
    t1.remove()
    t2.remove()
    return w


def pieces(x, y, items, **kw):
    for s, col in items:
        fig.text(x / W, 1 - y / H, s, color=col, va='center', ha='left', **kw)
        x += text_w(s, **kw)
    return x


mono = dict(fontsize=8.5, family=['DejaVu Sans Mono', 'DejaVu Sans'])
DK, GR = '#3c3c3c', '#27a552'
pieces(6, 14, [('Golden_Spiral', '#45a6dc'), (' 03+ 19:03:27 2019 ,20 ', DK), (rtl('مارس'), DK),
               (' ,TradingView.com ', DK), (rtl('نشرت على'), DK)], **mono)
pieces(6, 31, [('TVC:USOIL, 240 60.06 ', DK), ('▲', '#17a34a'), (' +1.01 (+1.71%) O:', DK),
               ('59.13', GR), (' H:', DK), ('60.19', GR), (' L:', DK), ('59.04', GR),
               (' C:', DK), ('60.06', GR)], **mono)
pieces(15, 61, [('WTI, 240, TVC ', AXTXT), (rtl('عقود الفروقات السعرية للنفط الخام'), AXTXT)],
       fontsize=8.3, family=['DejaVu Sans Mono', 'DejaVu Sans'])

xe = pieces(6, 1027, [('TradingView', '#3aa5e0')], fontsize=8.5, family='DejaVu Sans Mono')
fig.add_artist(FancyBboxPatch(((xe + 3) / W, 1 - 1034 / H), 20 / W, 13 / H,
                              boxstyle='round,pad=0,rounding_size=0.004', transform=fig.transFigure,
                              fc='#3aa5e0', ec='none', zorder=5))
fig.add_artist(Line2D([(xe + 6) / W, (xe + 11) / W, (xe + 15) / W, (xe + 20) / W],
                      [1 - 1030 / H, 1 - 1025 / H, 1 - 1029 / H, 1 - 1024 / H],
                      color='white', lw=1.2, zorder=6))
pieces(xe + 27, 1027, [(rtl('تم عملها من طريق'), '#555555')], fontsize=8)

fig.savefig('out.png', dpi=100, facecolor='white')
